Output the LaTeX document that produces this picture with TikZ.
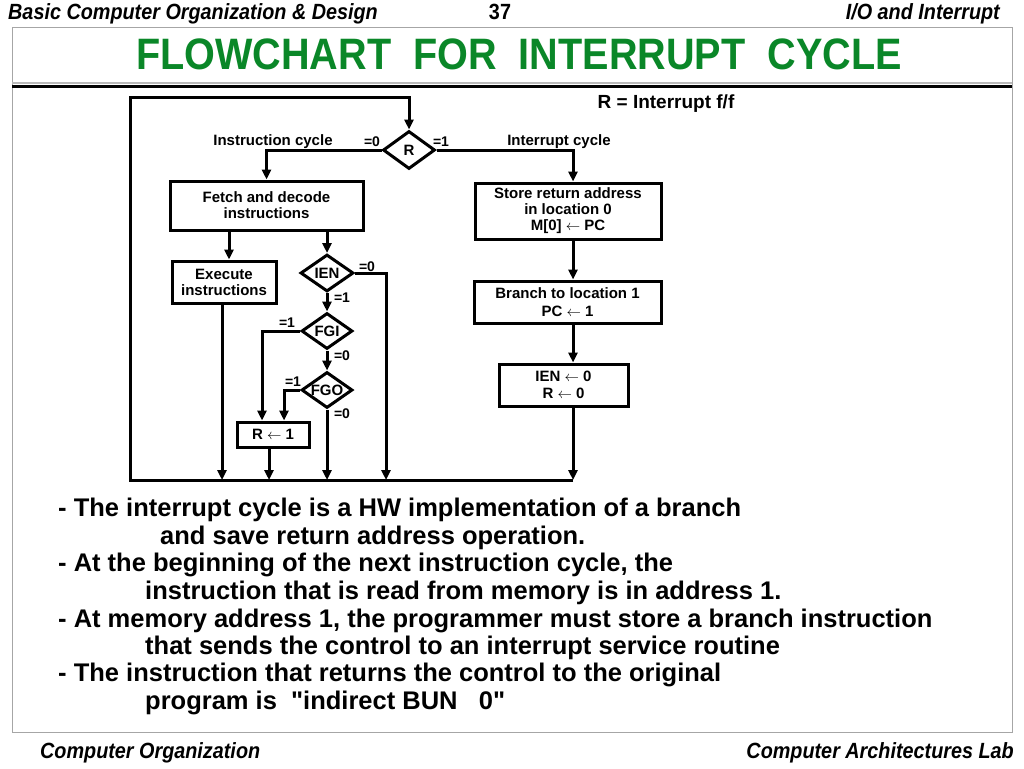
\documentclass[tikz,border=0pt]{standalone}
\usepackage{fontspec}
\setmainfont{Liberation Sans}
\newfontfamily\narrowfont{Liberation Sans}[FakeStretch=0.9]
\usetikzlibrary{shapes.geometric,arrows.meta}

\definecolor{titlegreen}{RGB}{10,135,40}
\newcommand\boxfont{\fontsize{15}{16}\selectfont\bfseries}
\newcommand\tagfont{\fontsize{14}{16}\selectfont\bfseries}
\newcommand\notefont{\fontsize{25.5}{27}\selectfont\bfseries}
\newcommand\headfont{\narrowfont\fontsize{22}{24}\selectfont\bfseries\itshape}
% straight double quote, without the tex-text mapping
\font\quotefont="Liberation Sans Bold" at 25.5pt
\newcommand\dquote{{\quotefont\char34 }}

\tikzset{
  box/.style={draw, line width=3pt, align=center, inner sep=0pt, font=\boxfont},
  decision/.style={diamond, draw, line width=3pt, inner sep=0pt, aspect=1.4, font=\boxfont},
  flow/.style={line width=3pt, -{Triangle[length=10pt,width=9pt]}},
  tag/.style={inner sep=0pt, font=\tagfont},
  note/.style={anchor=base west, inner sep=0pt, font=\notefont},
}

\begin{document}
\begin{tikzpicture}[x=1pt,y=-1pt]
\useasboundingbox (0,0) rectangle (1024,768);

% slide frame and title
\draw[gray!70, line width=1pt] (12,28) rectangle (1012,732);
\draw[gray!55, line width=2pt] (12,83) -- (1012,83);
\draw[line width=3pt] (12,86.5) -- (1012,86.5);
\node[anchor=base west, inner sep=0pt, font=\headfont] (headleft) at (8,20) {Basic Computer Organization \& Design};
\node[anchor=base, inner sep=0pt, font=\narrowfont\fontsize{22}{24}\selectfont\bfseries] (pagenum) at (500,20) {37};
\node[anchor=base east, inner sep=0pt, font=\headfont] (headright) at (1000,20) {I/O and Interrupt};
\node[anchor=base, inner sep=0pt, text=titlegreen, font=\narrowfont\fontsize{44}{48}\selectfont\bfseries] (title) at (519,70) {FLOWCHART\ \ FOR\ \ INTERRUPT\ \ CYCLE};
\node[anchor=base west, inner sep=0pt, font=\headfont] (footleft) at (40,758) {Computer Organization};
\node[anchor=base east, inner sep=0pt, font=\headfont] (footright) at (1014,758) {Computer Architectures Lab};

% flowchart
\node[decision, minimum width=52pt, minimum height=38pt] (R) at (409,150) {R};
\node[box, minimum width=193pt, minimum height=49pt] (fetch) at (266.5,205.5) {Fetch and decode\\instructions};
\node[box, minimum width=104pt, minimum height=42pt] (execute) at (224,282) {Execute\\instructions};
\node[decision, minimum width=53pt, minimum height=37pt] (IEN) at (327,273) {IEN};
\node[decision, minimum width=51pt, minimum height=36pt] (FGI) at (327,331) {FGI};
\node[decision, minimum width=51pt, minimum height=36pt] (FGO) at (327,390) {FGO};
\node[box, minimum width=72pt, minimum height=25pt] (rone) at (273,434.5) {R $\leftarrow$ 1};
\node[box, minimum width=186pt, minimum height=56pt] (store) at (568,211) {Store return address\\in location 0\\M[0] $\leftarrow$ PC};
\node[box, minimum width=187pt, minimum height=42pt, font=\fontsize{15}{18}\selectfont\bfseries] (branch) at (567.5,302) {Branch to location 1\\PC $\leftarrow$ 1};
\node[box, minimum width=129pt, minimum height=42pt, font=\fontsize{15}{17}\selectfont\bfseries] (ienzero) at (563.5,385) {IEN $\leftarrow$ 0\\R $\leftarrow$ 0};

\coordinate (loopbl) at (130,480);
\coordinate (loopbr) at (573,480);
\coordinate (looptl) at (130,97);
\coordinate (looptr) at (409,97);
\coordinate (ienoff) at (386,480);

% labels
\node[tag, font=\fontsize{15}{16}\selectfont\bfseries] (instcycle) at (273,142) {Instruction cycle};
\node[tag, font=\fontsize{15}{16}\selectfont\bfseries] (intcycle) at (559,142) {Interrupt cycle};
\node[tag, font=\fontsize{19}{20}\selectfont\bfseries] (rdef) at (666,104) {R = Interrupt f/f};
\node[tag] (rzero) at (372,142) {=0};
\node[tag] (rone-tag) at (441,142) {=1};
\node[tag] (ienzero-tag) at (367,267) {=0};
\node[tag] (ienone-tag) at (342,298) {=1};
\node[tag] (fgione-tag) at (287,323) {=1};
\node[tag] (fgizero-tag) at (342,356) {=0};
\node[tag] (fgoone-tag) at (293,382) {=1};
\node[tag] (fgozero-tag) at (342,414) {=0};

% connectors
\draw[flow] (loopbr) -- (loopbl) -- (looptl) -- (looptr) -- (R.north);
\draw[flow] (R.west) -| (fetch.north);
\draw[flow] (R.east) -| (store.north -| loopbr);
\draw[flow] ([xshift=5pt]execute.north |- fetch.south) -- ([xshift=5pt]execute.north);
\draw[flow] (IEN.north |- fetch.south) -- (IEN.north);
\draw[flow] ([xshift=-2pt]execute.south) -- ([xshift=-2pt]execute.south |- loopbl);
\draw[flow] (IEN.east) -| (ienoff);
\draw[flow] (IEN.south) -- (FGI.north);
\draw[flow] (FGI.west) -| ([xshift=-11pt]rone.north);
\draw[flow] (FGI.south) -- (FGO.north);
\draw[flow] (FGO.west) -| ([xshift=11pt]rone.north);
\draw[flow] (FGO.south) -- (FGO.south |- loopbl);
\draw[flow] ([xshift=-4pt]rone.south) -- ([xshift=-4pt]rone.south |- loopbl);
\draw[flow] (store.south -| loopbr) -- (branch.north -| loopbr);
\draw[flow] (branch.south -| loopbr) -- (ienzero.north -| loopbr);
\draw[flow] (ienzero.south -| loopbr) -- (loopbr);

% notes
\node[note] (note1) at (58,516.5) {- The interrupt cycle is a HW implementation of a branch};
\node[note] (note2) at (160,544) {and save return address operation.};
\node[note] (note3) at (58,571.5) {- At the beginning of the next instruction cycle, the};
\node[note] (note4) at (145,599) {instruction that is read from memory is in address 1.};
\node[note] (note5) at (58,627) {- At memory address 1, the programmer must store a branch instruction};
\node[note] (note6) at (145,654) {that sends the control to an interrupt service routine};
\node[note] (note7) at (58,681.5) {- The instruction that returns the control to the original};
\node[note] (note8) at (145,709) {program is\ \ \dquote indirect BUN\ \ \ 0\dquote};
\end{tikzpicture}
\end{document}
